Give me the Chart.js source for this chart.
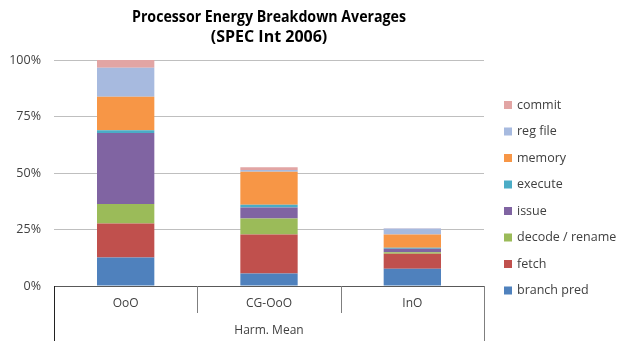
<!DOCTYPE html>
<html>
<head>
<meta charset="utf-8">
<script src="https://cdn.jsdelivr.net/npm/chart.js@4.4.0/dist/chart.umd.min.js"></script>
<style>
  html, body { margin: 0; padding: 0; background: #fff; }
  #wrap { width: 623px; height: 344px; position: relative; }
</style>
</head>
<body>
<div id="wrap"><canvas id="chart"></canvas></div>
<script>
// values, in percent
var categories = ['OoO', 'CG-OoO', 'InO'];
var groupLabel = 'Harm. Mean';
var titleLines = ['Processor Energy Breakdown Averages', '(SPEC Int 2006)'];

var branchPred   = [12.6, 5.5, 7.6];
var fetch        = [15.1, 17.3, 6.7];
var decodeRename = [8.6, 7.1, 0.6];
var issue        = [31.4, 4.8, 1.6];
var execute      = [1.2, 1.3, 0.4];
var memory       = [14.8, 14.6, 5.9];
var regFile      = [12.9, 0.7, 2.6];
var commit       = [3.4, 1.2, 0.2];

var yTicks = [0, 25, 50, 75, 100];

var seriesNames  = ['branch pred', 'fetch', 'decode / rename', 'issue', 'execute', 'memory', 'reg file', 'commit'];
var seriesData   = [branchPred, fetch, decodeRename, issue, execute, memory, regFile, commit];
var seriesColors = ['#4F81BD', '#C0504D', '#9BBB59', '#8064A2', '#4BACC6', '#F79646', '#A7BADF', '#E2A5A4'];

var FONT = "'Open Sans', 'Noto Sans', sans-serif";
var textColor = '#404040';

var datasets = [];
for (var i = 0; i < seriesNames.length; i++) {
    datasets.push({
        label: seriesNames[i],
        data: seriesData[i],
        backgroundColor: seriesColors[i],
        borderWidth: 0,
        barPercentage: 0.4,
        categoryPercentage: 1.0
    });
}

// title, legend and the two-level category axis
var extras = {
    id: 'extras',
    afterDraw: function(chart) {
        var ctx = chart.ctx;
        var area = chart.chartArea;
        var x = chart.scales.x;
        ctx.save();

        // title
        ctx.fillStyle = '#000';
        ctx.textAlign = 'center';
        ctx.textBaseline = 'middle';
        ctx.font = 'bold 16px ' + FONT;
        var cx = (area.left + area.right) / 2;
        ctx.fillText(titleLines[0], cx, 17, 274);
        ctx.fillText(titleLines[1], cx, 37, 132);

        // category separators
        var n = categories.length;
        var step = (area.right - area.left) / n;
        ctx.lineWidth = 1;
        for (var k = 0; k <= n; k++) {
            var sx = Math.round(area.left + k * step) + 0.5;
            var bottom = (k === 0 || k === n) ? 341 : 313;
            ctx.strokeStyle = (k === 0) ? '#222' : '#7f7f7f';
            ctx.beginPath();
            ctx.moveTo(sx, area.bottom);
            ctx.lineTo(sx, bottom);
            ctx.stroke();
        }

        // category labels
        ctx.fillStyle = textColor;
        ctx.font = '12px ' + FONT;
        for (var c = 0; c < n; c++) {
            ctx.fillText(categories[c], x.getPixelForValue(c), 304);
        }
        ctx.fillText(groupLabel, cx, 331);

        // legend, reversed like the original
        ctx.textAlign = 'left';
        ctx.font = '12.5px ' + FONT;
        for (var j = 0; j < seriesNames.length; j++) {
            var idx = seriesNames.length - 1 - j;
            var ly = 105 + j * 26.5;
            ctx.fillStyle = seriesColors[idx];
            ctx.fillRect(504, ly - 4, 8, 8);
            ctx.fillStyle = textColor;
            ctx.fillText(seriesNames[idx], 517, ly);
        }
        ctx.restore();
    }
};

new Chart(document.getElementById('chart'), {
    type: 'bar',
    data: { labels: categories, datasets: datasets },
    options: {
        responsive: true,
        maintainAspectRatio: false,
        animation: false,
        layout: { padding: { top: 60, right: 139, bottom: 58, left: 0 } },
        plugins: {
            legend: { display: false },
            title: { display: false },
            tooltip: { enabled: false }
        },
        scales: {
            x: {
                stacked: true,
                afterFit: function(scale) { scale.height = 0; },
                ticks: { display: false },
                grid: { display: false },
                border: { display: true, color: '#595959', width: 1 }
            },
            y: {
                stacked: true,
                min: 0,
                max: 100,
                afterFit: function(scale) { scale.width = 54; },
                afterBuildTicks: function(scale) {
                    scale.ticks = yTicks.map(function(v) { return { value: v }; });
                },
                ticks: {
                    padding: 13,
                    color: textColor,
                    font: { family: FONT, size: 12.5 },
                    callback: function(v) { return v + '%'; }
                },
                grid: {
                    drawTicks: false,
                    color: function(c) { return c.tick.value === 0 ? '#595959' : '#BFBFBF'; }
                },
                border: { display: false }
            }
        }
    },
    plugins: [extras]
});
</script>
</body>
</html>
